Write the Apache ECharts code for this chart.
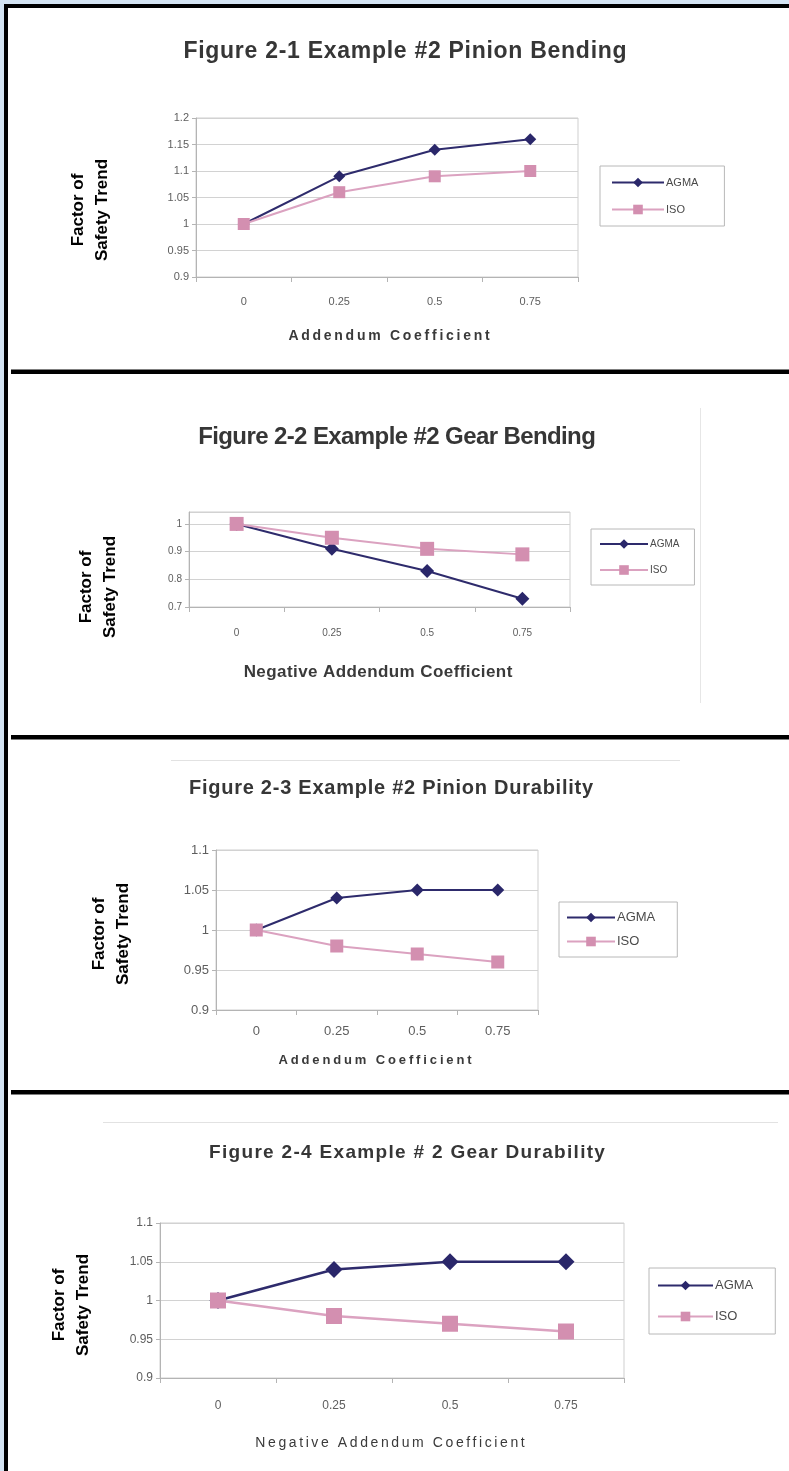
<!DOCTYPE html>
<html>
<head>
<meta charset="utf-8">
<script src="https://cdn.jsdelivr.net/npm/echarts@6/dist/echarts.min.js"></script>
<style>
  html, body { margin: 0; padding: 0; background: #ffffff; }
  #chart { width: 789px; height: 1471px; }
</style>
</head>
<body>
<div id="chart"></div>
<script>
// Addendum coefficient steps shared by all four figures
const categories = ['0', '0.25', '0.5', '0.75'];
const seriesNames = ['AGMA', 'ISO'];

// Factor of safety trends, one pair per figure
const pinionBendingAGMA = [1, 1.09, 1.14, 1.16];
const pinionBendingISO = [1, 1.06, 1.09, 1.10];
const gearBendingAGMA = [1, 0.91, 0.83, 0.73];
const gearBendingISO = [1, 0.95, 0.91, 0.89];
const pinionDurabilityAGMA = [1, 1.04, 1.05, 1.05];
const pinionDurabilityISO = [1, 0.98, 0.97, 0.96];
const gearDurabilityAGMA = [1, 1.04, 1.05, 1.05];
const gearDurabilityISO = [1, 0.98, 0.97, 0.96];

const figureTitles = [
  'Figure 2-1 Example #2 Pinion Bending',
  'Figure 2-2 Example #2 Gear Bending',
  'Figure 2-3 Example #2 Pinion Durability',
  'Figure 2-4 Example # 2 Gear Durability'
];
const xAxisTitles = [
  'Addendum Coefficient',
  'Negative Addendum Coefficient',
  'Addendum Coefficient',
  'Negative Addendum Coefficient'
];
const yAxisTitle = 'Factor of\nSafety Trend';

// y-axis ranges
const yMins = [0.9, 0.7, 0.9, 0.9];
const yMaxs = [1.2, 1.043, 1.1, 1.1];
const yIntervals = [0.05, 0.1, 0.05, 0.05];

const dataSets = [
  [pinionBendingAGMA, pinionBendingISO],
  [gearBendingAGMA, gearBendingISO],
  [pinionDurabilityAGMA, pinionDurabilityISO],
  [gearDurabilityAGMA, gearDurabilityISO]
];

// ---- styling ---------------------------------------------------------------
const SANS = "'Liberation Sans', Arial, sans-serif";
const AGMA_LINE = '#2e2b6c';
const AGMA_MARK = '#2a276a';
const ISO_LINE = '#dba2c0';
const ISO_MARK = '#d38fb0';

// Letter tracking (px) per caption, keyed by text and font, applied when the canvas draws it
const tracking = new Map();
const baseFillText = CanvasRenderingContext2D.prototype.fillText;
CanvasRenderingContext2D.prototype.fillText = function (text, x, y, maxWidth) {
  const sp = tracking.get(text + '|' + this.font);
  if (sp === undefined) {
    return maxWidth === undefined ? baseFillText.call(this, text, x, y)
                                  : baseFillText.call(this, text, x, y, maxWidth);
  }
  const prev = this.letterSpacing;
  this.letterSpacing = sp + 'px';
  const r = maxWidth === undefined ? baseFillText.call(this, text, x, y)
                                   : baseFillText.call(this, text, x, y, maxWidth);
  this.letterSpacing = prev;
  return r;
};

const measureCtx = document.createElement('canvas').getContext('2d');
// A caption set in `font`, tracked out (or in) so that it spans `width` px
function caption(text, font, width, cx, cy, color) {
  measureCtx.font = font;
  const natural = measureCtx.measureText(text).width;
  const sp = +((width - natural) / text.length).toFixed(2);
  tracking.set(text + '|' + measureCtx.font, sp);
  return {
    type: 'text', x: cx + sp / 2, y: cy, silent: true, z: 50,
    style: { text: text, x: 0, y: 0, align: 'center', verticalAlign: 'middle', font: font, fill: color }
  };
}

const panels = [
  { grid: { left: 196, top: 118, width: 382, height: 159 },
    title: { font: "bold 23px " + SANS, width: 444, x: 405, y: 52 },
    xName: { font: "bold 14px " + SANS, width: 204, x: 389, y: 336 },
    tickSize: 11, xLabelMargin: 19,
    legend: { left: 600, top: 166, padding: [11, 26, 11, 11], itemGap: 16, itemWidth: 52, fontSize: 11 },
    yName: { x: 90, y: 210 },
    diamond: 12, square: 12, lineWidth: 2 },
  { grid: { left: 189, top: 512, width: 381, height: 95 },
    title: { font: "bold 24px " + SANS, width: 397, x: 397, y: 437 },
    xName: { font: "bold 17px " + SANS, width: 269, x: 378, y: 672 },
    tickSize: 10, xLabelMargin: 21,
    legend: { left: 591, top: 529, padding: [10, 15, 10, 8], itemGap: 16, itemWidth: 48, fontSize: 10 },
    yName: { x: 98, y: 587 },
    diamond: 14, square: 14, lineWidth: 2 },
  { grid: { left: 216, top: 850, width: 322, height: 160 },
    title: { font: "bold 20px " + SANS, width: 405, x: 391, y: 788 },
    xName: { font: "bold 13px " + SANS, width: 196, x: 375, y: 1060 },
    tickSize: 13, xLabelMargin: 15,
    legend: { left: 559, top: 902, padding: [9, 22, 9, 7], itemGap: 11, itemWidth: 48, fontSize: 13 },
    yName: { x: 111, y: 934 },
    diamond: 13, square: 13, lineWidth: 2 },
  { grid: { left: 160, top: 1223, width: 464, height: 155 },
    title: { font: "bold 19px " + SANS, width: 397, x: 407, y: 1153 },
    xName: { font: "14px " + SANS, width: 272, x: 390, y: 1443 },
    tickSize: 12, xLabelMargin: 22,
    legend: { left: 649, top: 1268, padding: [11, 22, 11, 8], itemGap: 18, itemWidth: 55, fontSize: 13 },
    yName: { x: 71, y: 1305 },
    diamond: 17, square: 16, lineWidth: 2.5 }
];

const grids = [], xAxes = [], yAxes = [], series = [], legends = [], graphics = [];

panels.forEach((p, i) => {
  grids.push(Object.assign({ show: true, borderColor: '#cfcfcf', borderWidth: 1, containLabel: false }, p.grid));

  xAxes.push({
    type: 'category', gridIndex: i, data: categories, boundaryGap: true,
    axisLine: { lineStyle: { color: '#b4b4b4', width: 1 } },
    axisTick: { show: true, alignWithLabel: false, length: 5, lineStyle: { color: '#b4b4b4' } },
    axisLabel: { color: '#5e5e5e', fontSize: p.tickSize, fontFamily: SANS, margin: p.xLabelMargin }
  });

  yAxes.push({
    type: 'value', gridIndex: i, min: yMins[i], max: yMaxs[i], interval: yIntervals[i],
    axisLine: { show: true, lineStyle: { color: '#b4b4b4', width: 1 } },
    axisTick: { show: true, length: 4, lineStyle: { color: '#b4b4b4' } },
    axisLabel: { color: '#5e5e5e', fontSize: p.tickSize, fontFamily: SANS, margin: 7,
                 showMaxLabel: i !== 1 },
    splitLine: { show: true, lineStyle: { color: '#d2d2d2', width: 1 } }
  });

  series.push({
    name: seriesNames[0], type: 'line', xAxisIndex: i, yAxisIndex: i, data: dataSets[i][0],
    symbol: 'diamond', symbolSize: p.diamond, z: 3,
    lineStyle: { color: AGMA_LINE, width: p.lineWidth },
    itemStyle: { color: AGMA_MARK, borderWidth: 0 },
    animation: false
  });
  series.push({
    name: seriesNames[1], type: 'line', xAxisIndex: i, yAxisIndex: i, data: dataSets[i][1],
    symbol: 'rect', symbolSize: p.square, z: 4,
    lineStyle: { color: ISO_LINE, width: p.lineWidth },
    itemStyle: { color: ISO_MARK, borderWidth: 0 },
    animation: false
  });

  legends.push({
    orient: 'vertical', left: p.legend.left, top: p.legend.top,
    padding: p.legend.padding, itemGap: p.legend.itemGap,
    itemWidth: p.legend.itemWidth, itemHeight: 12,
    borderColor: '#b8b8b8', borderWidth: 1, backgroundColor: '#ffffff',
    data: seriesNames, selectedMode: false,
    textStyle: { color: '#4a4a4a', fontSize: p.legend.fontSize, fontFamily: SANS, padding: [0, 0, 0, -3] }
  });

  graphics.push(caption(figureTitles[i], p.title.font, p.title.width, p.title.x, p.title.y, '#363636'));
  graphics.push(caption(xAxisTitles[i], p.xName.font, p.xName.width, p.xName.x, p.xName.y, '#3a3a3a'));
  graphics.push({
    type: 'text', x: p.yName.x, y: p.yName.y, rotation: Math.PI / 2, silent: true,
    style: { text: yAxisTitle, x: 0, y: 0, align: 'center', verticalAlign: 'middle',
             lineHeight: 24, font: "bold 17px " + SANS, fill: '#000000' }
  });
});

// Page frame: pale blue margin, heavy black rules around and between figures
const frame = [
  { shape: { x: 0, y: 0, width: 789, height: 4 }, fill: '#d4e4f3' },
  { shape: { x: 0, y: 0, width: 4, height: 1471 }, fill: '#d4e4f3' },
  { shape: { x: 4, y: 4, width: 785, height: 4 }, fill: '#000000' },
  { shape: { x: 4, y: 4, width: 4, height: 1467 }, fill: '#000000' },
  { shape: { x: 11, y: 369.5, width: 778, height: 4.5 }, fill: '#000000' },
  { shape: { x: 11, y: 735, width: 778, height: 4.5 }, fill: '#000000' },
  { shape: { x: 11, y: 1090, width: 778, height: 4.5 }, fill: '#000000' },
  // faint chart-area edges
  { shape: { x: 700, y: 408, width: 1, height: 295 }, fill: '#e6e6e6' },
  { shape: { x: 171, y: 760, width: 509, height: 1 }, fill: '#e2e2e2' },
  { shape: { x: 103, y: 1122, width: 675, height: 1 }, fill: '#e2e2e2' }
];
frame.forEach(f => graphics.push({ type: 'rect', silent: true, z: 100, shape: f.shape, style: { fill: f.fill } }));

const chart = echarts.init(document.getElementById('chart'), null, { renderer: 'canvas' });
chart.setOption({
  animation: false,
  backgroundColor: '#ffffff',
  grid: grids,
  xAxis: xAxes,
  yAxis: yAxes,
  legend: legends,
  series: series,
  graphic: graphics
});
</script>
</body>
</html>
